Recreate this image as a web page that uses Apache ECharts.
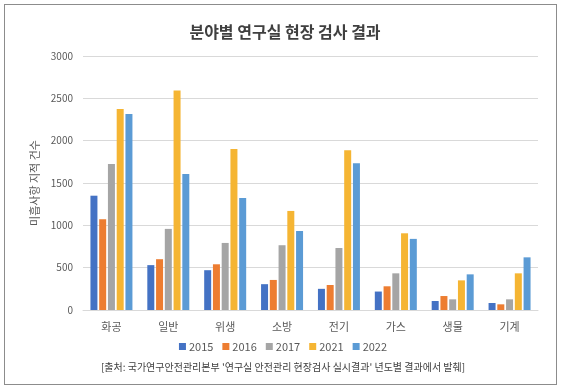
<!DOCTYPE html>
<html><head><meta charset="utf-8">
<script src="https://cdn.jsdelivr.net/npm/echarts@6/dist/echarts.min.js"></script>
<style>html,body{margin:0;padding:0;background:#fff}#c{width:566px;height:389px}
#frame{position:absolute;left:4px;top:4px;width:553px;height:381px;border:1px solid #8c8c8c;box-sizing:border-box;pointer-events:none}</style>
</head><body><div id="c"></div><div id="frame"></div>
<script>
const categories = ['화공','일반','위생','소방','전기','가스','생물','기계'];
const years = ['2015','2016','2017','2021','2022'];
const v2015 = [1350, 530, 470, 305, 250, 218, 106, 83];
const v2016 = [1072, 600, 540, 355, 295, 280, 165, 67];
const v2017 = [1725, 958, 792, 765, 732, 433, 126, 126];
const v2021 = [2375, 2592, 1902, 1170, 1886, 906, 350, 433];
const v2022 = [2315, 1606, 1323, 933, 1732, 840, 421, 622];
const yTicks = [0, 500, 1000, 1500, 2000, 2500, 3000];
const colors = ['#4472C4','#ED7D31','#A5A5A5','#F5B533','#5B9BD5'];
const seriesData = [v2015, v2016, v2017, v2021, v2022];
const chart = echarts.init(document.getElementById('c'));
const font = '"Noto Sans CJK KR", "Noto Sans", sans-serif';
chart.setOption({
  animation: false,
  textStyle: {fontFamily: font},
  title: {text: '분야별 연구실 현장 검사 결과', left: 280, top: 19, textAlign: 'center',
    textStyle: {fontSize: 16, fontWeight: 'bold', color: '#404040', fontFamily: font}},
  grid: {left: 83, right: 28, top: 56, bottom: 79},
  legend: {bottom: 32, left: 'center', itemWidth: 7, itemHeight: 7, itemGap: 9, icon: 'rect',
    textStyle: {fontSize: 11, color: '#595959', padding: [0,0,0,-2]}, data: years},
  xAxis: {type: 'category', data: categories,
    axisLine: {lineStyle: {color: '#d9d9d9'}}, axisTick: {show: false},
    axisLabel: {fontSize: 11, color: '#595959', margin: 11}},
  yAxis: {type: 'value', min: yTicks[0], max: yTicks[yTicks.length-1], interval: 500,
    name: '미흡사항 지적 건수', nameLocation: 'middle', nameGap: 36, nameRotate: 90,
    nameTextStyle: {fontSize: 11, color: '#595959'},
    axisLabel: {fontSize: 10, color: '#595959', margin: 10, formatter: v => String(v)},
    splitLine: {lineStyle: {color: '#d9d9d9'}}, axisLine: {show: false}, axisTick: {show: false}},
  graphic: [{type: 'text', left: 'center', top: 362,
    style: {text: "[출처: 국가연구안전관리본부 '연구실 안전관리 현장검사 실시결과' 년도별 결과에서 발췌]",
      fontSize: 10, fill: '#404040', fontFamily: font}}],
  series: years.map((y, i) => ({
    name: y, type: 'bar', data: seriesData[i], barWidth: 7, barGap: '25%',
    itemStyle: {color: colors[i]}
  }))
});
</script></body></html>
